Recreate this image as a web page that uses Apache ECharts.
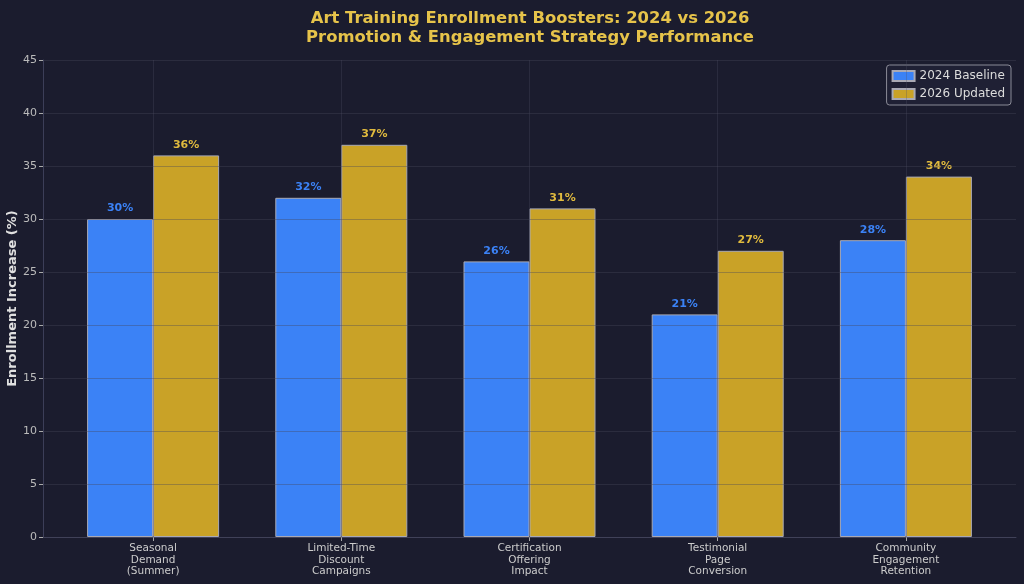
<!DOCTYPE html>
<html>
<head>
<meta charset="utf-8">
<script src="https://cdn.jsdelivr.net/npm/echarts@6/dist/echarts.min.js"></script>
<style>
  html, body { margin: 0; padding: 0; background: #1b1c2e; }
  #chart { width: 1024px; height: 584px; }
</style>
</head>
<body>
<div id="chart"></div>
<script>
var categories = [
  'Seasonal\nDemand\n(Summer)',
  'Limited-Time\nDiscount\nCampaigns',
  'Certification\nOffering\nImpact',
  'Testimonial\nPage\nConversion',
  'Community\nEngagement\nRetention'
];
var baseline2024 = [30, 32, 26, 21, 28];
var updated2026 = [36, 37, 31, 27, 34];
var yTicks = { min: 0, max: 45, interval: 5 };

var blue = '#3b82f6';
var gold = '#c9a227';
var gridColor = 'rgba(70,70,90,0.38)';

var myChart = echarts.init(document.getElementById('chart'));

// 竖向网格线放在类目中心
var centerLines = categories.map(function (c) {
  return { xAxis: c };
});

var option = {
  backgroundColor: '#1b1c2e',
  animation: false,
  title: {
    text: 'Art Training Enrollment Boosters: 2024 vs 2026\nPromotion & Engagement Strategy Performance',
    left: 525,
    top: 4,
    textAlign: 'center',
    textStyle: {
      color: '#e6c34a',
      fontFamily: 'DejaVu Sans',
      fontWeight: 'bold',
      fontSize: 16.4,
      lineHeight: 19
    }
  },
  legend: {
    orient: 'vertical',
    right: 13,
    top: 65,
    icon: 'rect',
    itemWidth: 22,
    itemHeight: 10,
    itemGap: 6,
    padding: [5, 6, 5, 5],
    backgroundColor: '#1f2034',
    borderColor: '#8a8a96',
    borderWidth: 1,
    borderRadius: 3,
    textStyle: { color: '#dcdcdc', fontFamily: 'DejaVu Sans', fontSize: 12 },
    data: ['2024 Baseline', '2026 Updated']
  },
  grid: [
    { left: 43, right: 8, top: 60, bottom: 47, containLabel: false, outerBoundsMode: 'none' },   // 外框和刻度
    { left: 59, right: 24, top: 60, bottom: 47, containLabel: false, outerBoundsMode: 'none' }   // 柱子
  ],
  xAxis: [
    {
      type: 'category',
      gridIndex: 0,
      data: categories,
      axisLine: { lineStyle: { color: '#3c3e58' } },
      axisTick: { show: false },
      axisLabel: { show: false },
      splitLine: { show: false }
    },
    {
      type: 'category',
      gridIndex: 1,
      data: categories,
      axisLine: { show: false },
      axisTick: { show: true, alignWithLabel: true, length: 4, lineStyle: { color: '#aaaaaa' } },
      axisLabel: {
        color: '#cccccc',
        fontFamily: 'DejaVu Sans',
        fontSize: 10.5,
        lineHeight: 11.3,
        margin: 6
      },
      splitLine: { show: false }
    }
  ],
  yAxis: [
    {
      type: 'value',
      gridIndex: 0,
      min: yTicks.min,
      max: yTicks.max,
      interval: yTicks.interval,
      z: 5,
      name: 'Enrollment Increase (%)',
      nameLocation: 'middle',
      nameGap: 24,
      nameMoveOverlap: false,
      nameTextStyle: { color: '#e0e0e0', fontFamily: 'DejaVu Sans', fontWeight: 'bold', fontSize: 13 },
      axisLine: { show: true, lineStyle: { color: '#3c3e58' } },
      axisTick: { show: true, length: 4, lineStyle: { color: '#aaaaaa' } },
      axisLabel: { color: '#bbbbbb', fontFamily: 'DejaVu Sans', fontSize: 11, margin: 6 },
      splitLine: { show: true, lineStyle: { color: gridColor, width: 1 } }
    },
    {
      type: 'value',
      gridIndex: 1,
      min: yTicks.min,
      max: yTicks.max,
      interval: yTicks.interval,
      show: false,
      splitLine: { show: false }
    }
  ],
  series: [
    {
      name: '2024 Baseline',
      type: 'bar',
      xAxisIndex: 1,
      yAxisIndex: 1,
      data: baseline2024,
      barWidth: 66,
      barGap: '0%',
      itemStyle: { color: blue, borderColor: '#a9a9b4', borderWidth: 1 },
      label: {
        show: true,
        position: 'top',
        distance: 5,
        formatter: '{c}%',
        color: '#3b82f6',
        fontFamily: 'DejaVu Sans',
        fontWeight: 'bold',
        fontSize: 11
      }
    },
    {
      name: '2026 Updated',
      type: 'bar',
      xAxisIndex: 1,
      yAxisIndex: 1,
      data: updated2026,
      barWidth: 66,
      barGap: '0%',
      itemStyle: { color: gold, borderColor: '#a9a9b4', borderWidth: 1 },
      label: {
        show: true,
        position: 'top',
        distance: 5,
        formatter: '{c}%',
        color: '#e0ba3e',
        fontFamily: 'DejaVu Sans',
        fontWeight: 'bold',
        fontSize: 11
      }
    },
    {
      // 只用来画竖向网格线
      name: 'vgrid',
      type: 'line',
      xAxisIndex: 1,
      yAxisIndex: 1,
      data: [],
      z: 0,
      markLine: {
        silent: true,
        symbol: 'none',
        label: { show: false },
        lineStyle: { color: 'rgba(80,80,100,0.3)', type: 'solid', width: 1 },
        data: centerLines
      }
    }
  ]
};

myChart.setOption(option);
</script>
</body>
</html>
